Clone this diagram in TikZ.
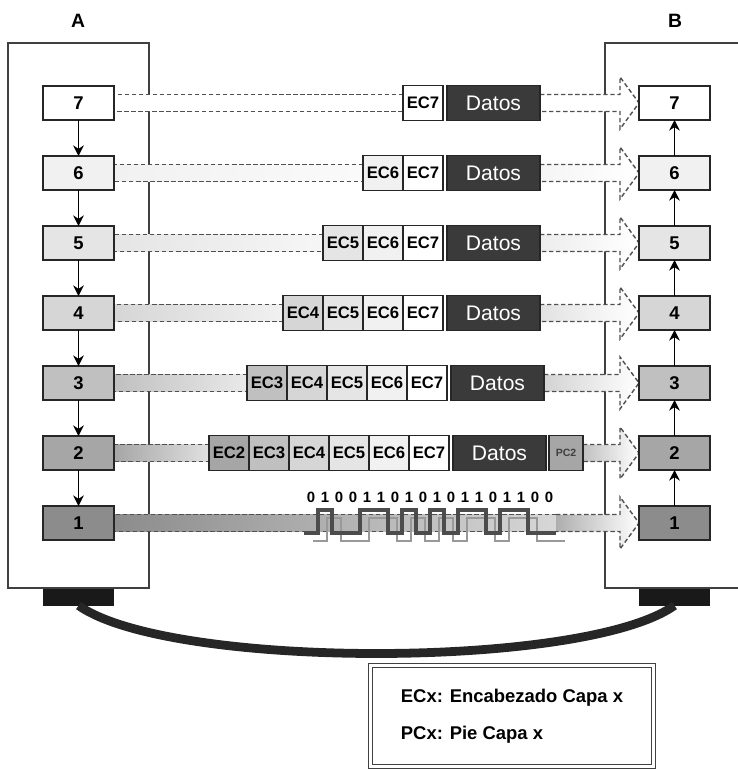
\documentclass[tikz,border=0pt]{standalone}
\usepackage{fontspec}
\setmainfont{Liberation Sans}
\usetikzlibrary{arrows.meta, math, calc, backgrounds}
\definecolor{lay7}{RGB}{255,255,255}
\definecolor{lay6}{RGB}{241,241,241}
\definecolor{lay5}{RGB}{229,229,229}
\definecolor{lay4}{RGB}{214,214,214}
\definecolor{lay3}{RGB}{192,192,192}
\definecolor{lay2}{RGB}{166,166,166}
\definecolor{lay1}{RGB}{140,140,140}
\definecolor{datgray}{RGB}{58,58,58}
\definecolor{linegray}{RGB}{80,80,80}

\begin{document}
\begin{tikzpicture}[x=0.02cm, y=-0.02cm,
  osibox/.style={draw=black!85, line width=1pt, minimum width=1.42cm, minimum height=0.68cm, inner sep=0pt, outer sep=0pt, font=\bfseries\fontsize{10.5}{12}\selectfont},
  hdrcell/.style={draw=black!85, line width=0.7pt, minimum width=0.8cm, minimum height=0.7cm, inner sep=0pt, outer sep=0pt, font=\bfseries\fontsize{9.5}{10}\selectfont},
  datos/.style={hdrcell, fill=datgray, text=white, minimum width=1.86cm, font=\fontsize{12}{14}\selectfont},
  dashline/.style={draw=linegray, line width=0.8pt, dash pattern=on 2.5pt off 1.5pt},
  plug/.style={fill=black!90, minimum width=1.42cm, minimum height=0.34cm, inner sep=0pt, outer sep=0pt},
  bitlabel/.style={inner sep=0pt, font=\bfseries\fontsize{8.5}{10}\selectfont},
  side/.style={font=\bfseries\fontsize{11}{13}\selectfont},
  updown/.style={-{Stealth[length=6pt, width=6pt]}, line width=1pt}]
\tikzmath{
\hb=8.5;
\ah=26;
\al=19;
}
\useasboundingbox (0,0) rectangle (737,773);

\node[side] (labA) at (78,21) {A};
\node[side] (labB) at (675,21) {B};

\foreach \n in {7,...,1} {
\node[osibox, fill=lay\n] (A\n) at (78.5,{103+(7-\n)*70}) {\n};
\node[osibox, fill=lay\n] (B\n) at (674.5,{103+(7-\n)*70}) {\n};
}

\foreach \n/\dx in {7/0,6/0,5/0,4/0,3/4,2/6} {
\foreach \k in {\n,...,7}
  \node[hdrcell, fill=lay\k] (E\n\k) at ({423+\dx-(7-\k)*40},{103+(7-\n)*70}) {EC\k};
\node[datos] (D\n) at ({493.5+\dx},{103+(7-\n)*70}) {Datos};
}
\node[hdrcell, fill=lay2, minimum width=0.68cm, text=black!75, font=\bfseries\fontsize{6}{7}\selectfont] (P2) at (566,453) {PC2};
\coordinate (w1) at (556,523);

\begin{scope}[on background layer]
\draw[black!75, line width=0.9pt] (8,43) rectangle (149,588);
\draw[black!75, line width=0.9pt] (745,43) -- (605,43) -- (605,588) -- (745,588);
\foreach \n/\ps/\pe in {7/E77.west/D7.east, 6/E66.west/D6.east, 5/E55.west/D5.east, 4/E44.west/D4.east, 3/E33.west/D3.east, 2/E22.west/P2.east, 1/w1/w1} {
  \shade[left color=lay\n, right color=lay\n!35!white] ($(A\n.east)+(0,-\hb)$) rectangle ($(\ps)+(0,\hb)$);
  \draw[dashline] ($(\ps)+(0,-\hb)$) -- ($(A\n.east)+(0,-\hb)$) -- ($(A\n.east)+(0,\hb)$) -- ($(\ps)+(0,\hb)$);
  \shade[left color=lay\n!70!white, right color=white] ($(\pe)+(0,-\hb)$) -- ($(B\n.west)+(-\al,-\hb)$) -- ($(B\n.west)+(-\al,-\ah)$) -- (B\n.west) -- ($(B\n.west)+(-\al,\ah)$) -- ($(B\n.west)+(-\al,\hb)$) -- ($(\pe)+(0,\hb)$) -- cycle;
  \draw[dashline] ($(\pe)+(0,-\hb)$) -- ($(B\n.west)+(-\al,-\hb)$) -- ($(B\n.west)+(-\al,-\ah)$) -- (B\n.west) -- ($(B\n.west)+(-\al,\ah)$) -- ($(B\n.west)+(-\al,\hb)$) -- ($(\pe)+(0,\hb)$);
}
\end{scope}

\foreach \sx/\sy/\wc/\ww in {9/8/black!40/1.6pt, 0/0/black!70/2pt}
  \draw[\wc, line width=\ww, shift={(\sx,\sy)}] (304,533) -| (318,510) -| (332,533) -| (360,510) -| (388,533) -| (402,510) -| (416,533) -| (430,510) -| (444,533) -| (458,510) -| (486,533) -| (500,510) -| (528,533) -- (556,533);
\foreach \b [count=\i from 0] in {0,1,0,0,1,1,0,1,0,1,0,1,1,0,1,1,0,0}
  \node[bitlabel] (bit\i) at ({311+14*\i},497) {\b};

\foreach \n/\m in {7/6,6/5,5/4,4/3,3/2,2/1} {
\draw[updown] (A\n) -- (A\m);
\draw[updown] (B\m) -- (B\n);
}

\node[plug] (pA) at (78.5,597) {};
\node[plug] (pB) at (674.5,597) {};
\draw[black!85, line width=5pt] (pA.south) .. controls +(90,64) and +(-90,64) .. (pB.south);

\node[draw=black!75, double=white, double distance=1.8pt, line width=0.6pt, minimum width=5.66cm, minimum height=2.02cm, align=left, font=\bfseries\fontsize{10.5}{12}\selectfont] (leg) at (512,716) {ECx: Encabezado Capa x\\[9pt]PCx: Pie Capa x};
\end{tikzpicture}
\end{document}
